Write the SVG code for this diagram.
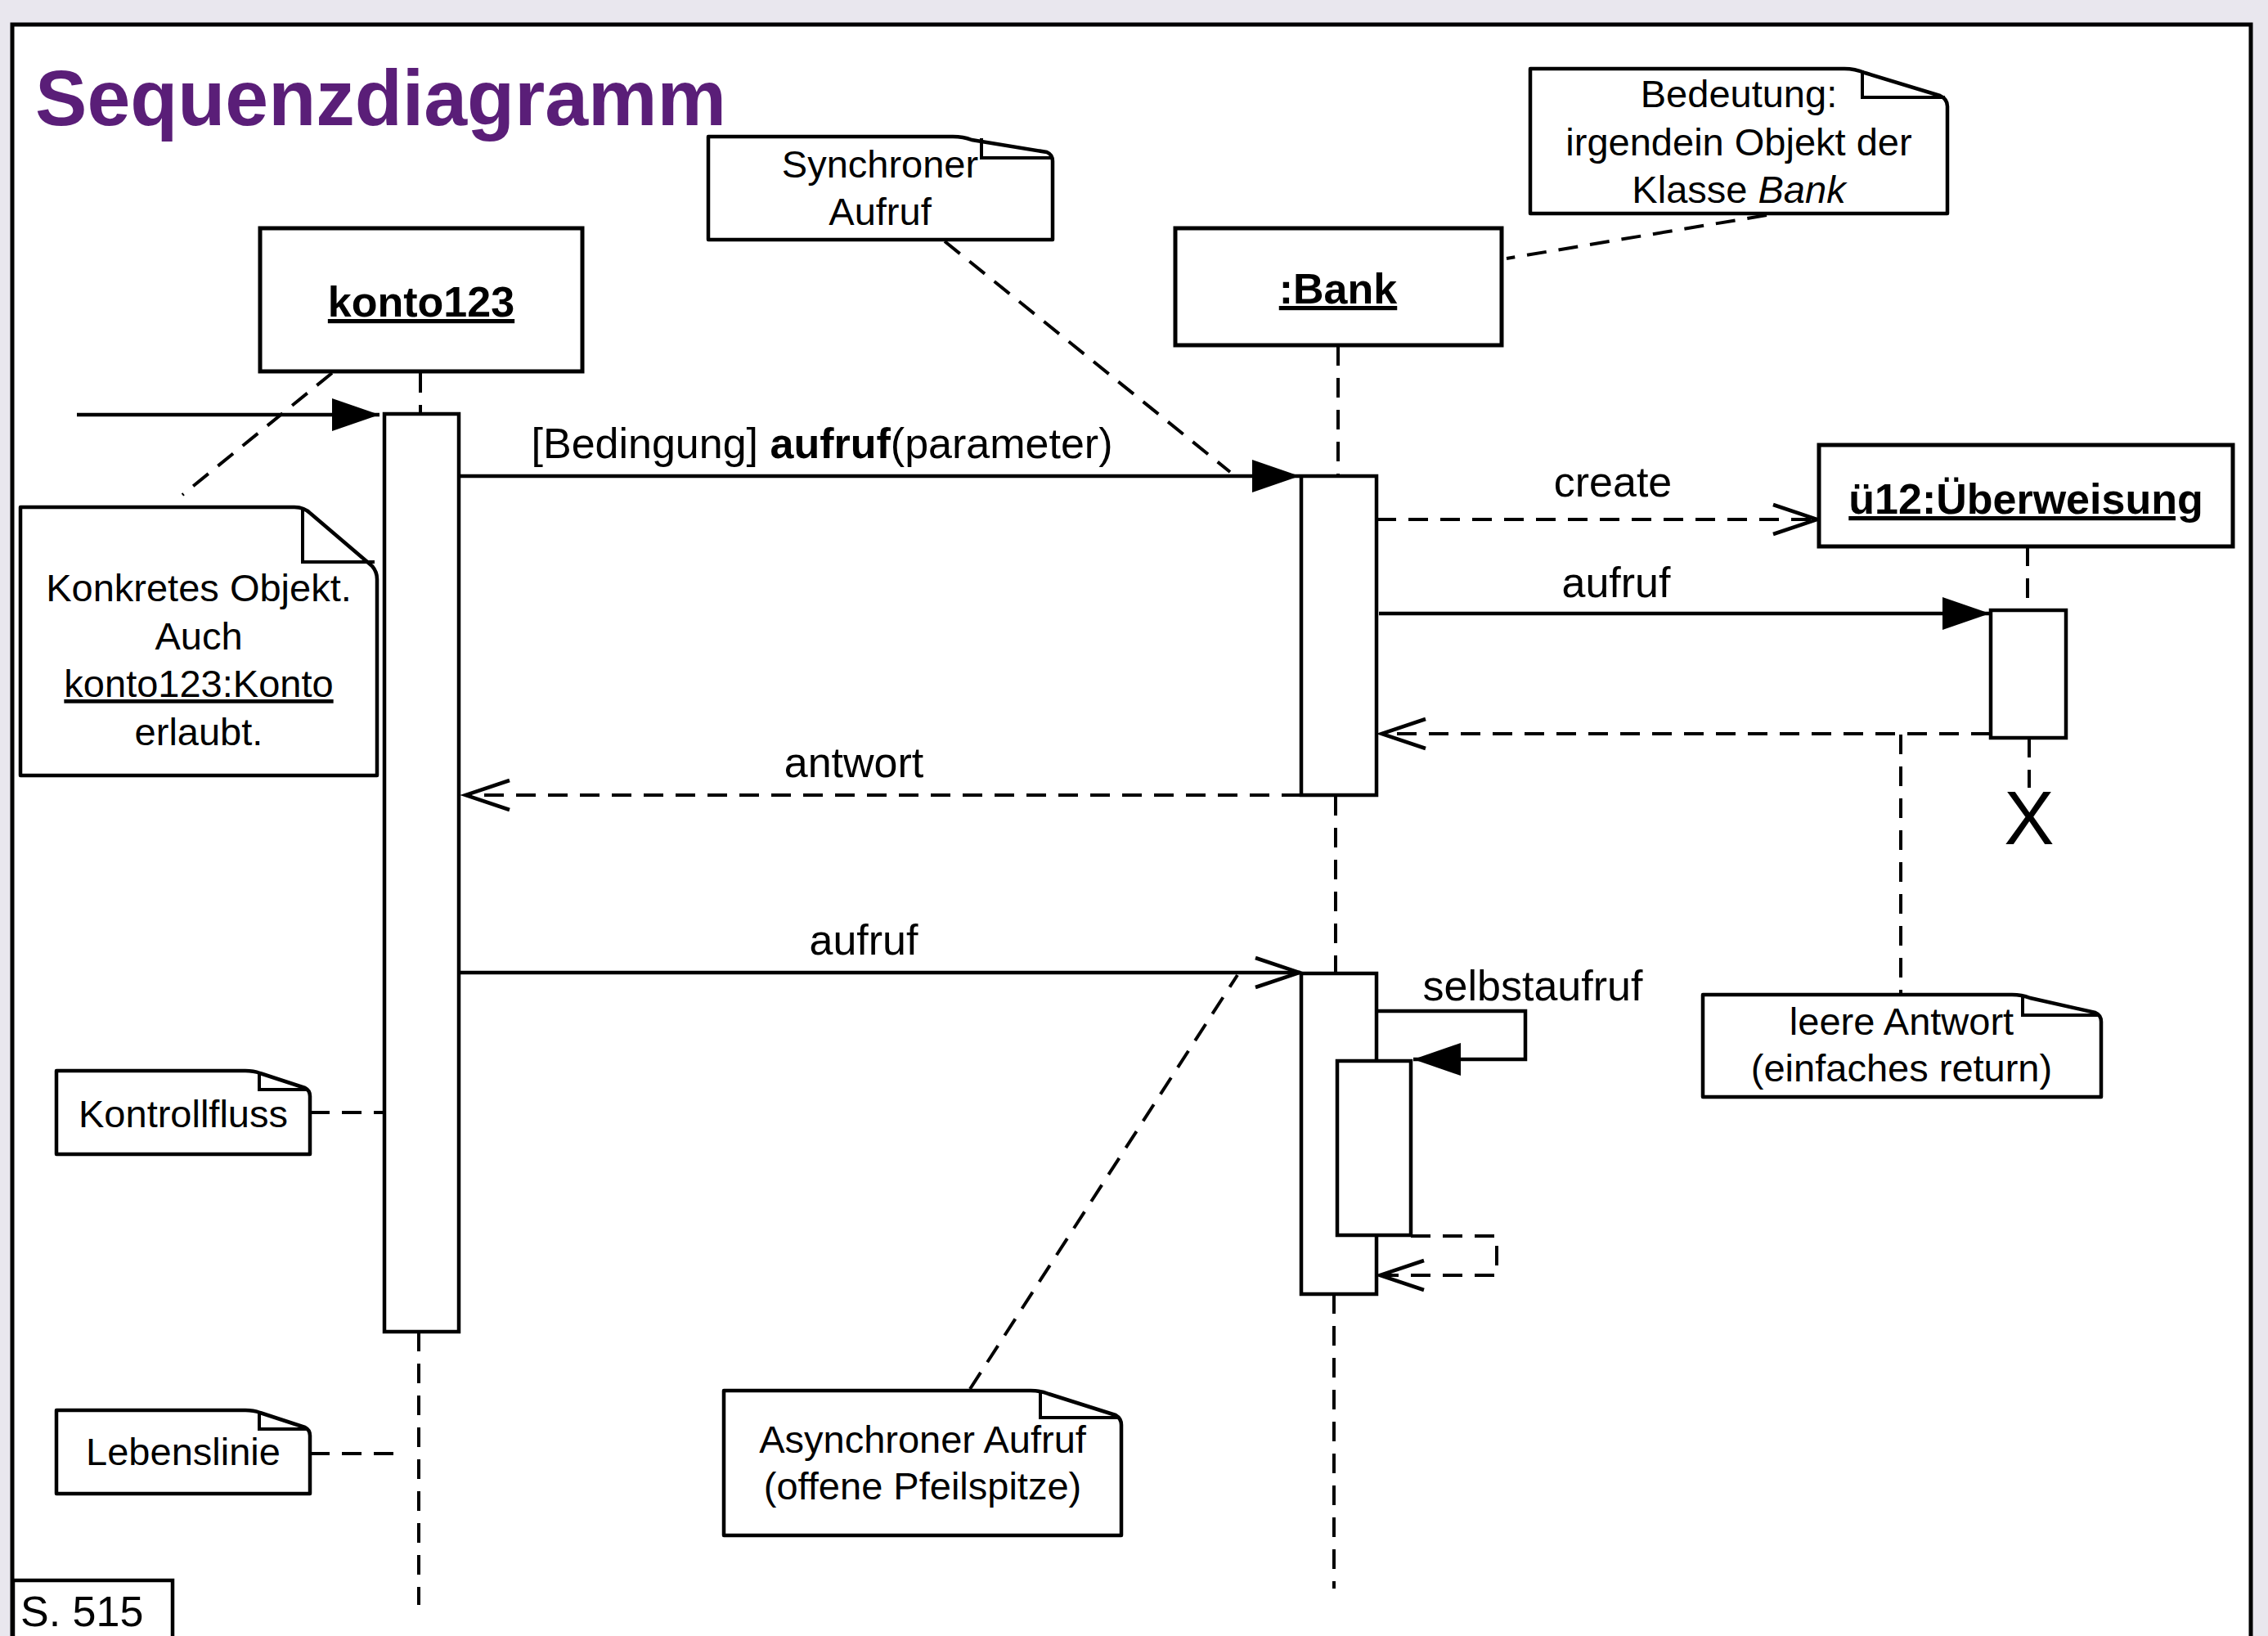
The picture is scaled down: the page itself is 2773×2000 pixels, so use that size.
<svg xmlns="http://www.w3.org/2000/svg" width="2773" height="2000" viewBox="0 0 2773 2000">
<style>
.box{fill:#fff;stroke:#000;stroke-width:5}
.act{fill:#fff;stroke:#000;stroke-width:4.5}
.note{fill:#fff;stroke:#000;stroke-width:4.5;stroke-linejoin:round}
.fold{fill:none;stroke:#000;stroke-width:4}
.dash{fill:none;stroke:#000;stroke-width:4;stroke-dasharray:24 15}
.solid{fill:none;stroke:#000;stroke-width:4.5}
.t{font-family:"Liberation Sans",Arial,sans-serif;fill:#000}
.nt{font-size:47px;text-anchor:middle}
.msg{font-size:52px;text-anchor:middle}
.obj{font-size:52px;font-weight:bold;text-anchor:middle;text-decoration:underline}
</style>
<defs>
<marker id="filled" markerUnits="userSpaceOnUse" markerWidth="62" markerHeight="46" refX="58" refY="22" orient="auto">
<path d="M0,2 L58,22 L0,42 Z" fill="#000"/>
</marker>
<marker id="open" markerUnits="userSpaceOnUse" markerWidth="62" markerHeight="46" refX="57" refY="22" orient="auto">
<path d="M2,4 L56,22 L2,40" fill="none" stroke="#000" stroke-width="4.5" stroke-dasharray="none"/>
</marker>
</defs>
<rect x="0" y="0" width="2773" height="2000" fill="#e9e7ee"/>
<rect x="15" y="30" width="2737" height="2010" fill="#fff" stroke="#000" stroke-width="5"/>
<text class="t" x="43" y="153" font-size="96" font-weight="bold" fill="#5a1e78" style="fill:#5a1e78" textLength="845" lengthAdjust="spacingAndGlyphs">Sequenzdiagramm</text>

<g id="connectors">
<!-- lifelines -->
<path class="dash" d="M514,456 V506"/>
<path class="dash" d="M512,1628 V1962"/>
<path class="dash" d="M1636,423 V582"/>
<path class="dash" d="M1633,973 V1190"/>
<path class="dash" d="M1631,1582 V1942"/>
<path class="dash" d="M2479,668 V746"/>
<path class="dash" d="M2481,902 V963"/>
<!-- note anchors -->
<path class="dash" d="M406,456 L223,605"/>
<path class="dash" d="M1155,295 L1504,577"/>
<path class="dash" d="M2160,263 L1842,316"/>
<path class="dash" d="M1186,1698 L1513,1192"/>
<path class="dash" d="M379,1360 H470"/>
<path class="dash" d="M379,1777 H495"/>
<path class="dash" d="M2324,898 V1216"/>
<!-- messages -->
<path class="solid" d="M94,507 H464" marker-end="url(#filled)"/>
<path class="solid" d="M561,582 H1589" marker-end="url(#filled)"/>
<path class="dash" d="M1683,635 H2223" marker-end="url(#open)"/>
<path class="solid" d="M1686,750 H2433" marker-end="url(#filled)"/>
<path class="dash" d="M2434,897 H1688" marker-end="url(#open)"/>
<path class="dash" d="M1591,972 H568" marker-end="url(#open)"/>
<path class="solid" d="M561,1189 H1590" marker-end="url(#open)"/>
<path class="solid" d="M1683,1236 H1865 V1295 H1728" marker-end="url(#filled)"/>
<path class="dash" d="M1725,1511 H1830 V1559 H1686" marker-end="url(#open)"/>
<text class="t msg" x="1005" y="560">[Bedingung] <tspan font-weight="bold">aufruf</tspan>(parameter)</text>
<text class="t msg" x="1972" y="607">create</text>
<text class="t msg" x="1976" y="730">aufruf</text>
<text class="t msg" x="1044" y="950">antwort</text>
<text class="t msg" x="1056" y="1167">aufruf</text>
<text class="t msg" x="1874" y="1223">selbstaufruf</text>
</g>

<g id="konto123">
<rect class="box" x="318" y="279" width="394" height="175"/>
<text class="t obj" x="515" y="387">konto123</text>
<rect class="act" x="470" y="506" width="91" height="1122"/>
</g>

<g id="bank">
<rect class="box" x="1437" y="279" width="399" height="143"/>
<text class="t obj" x="1636" y="371">:Bank</text>
<rect class="act" x="1591" y="582" width="92" height="390"/>
<rect class="act" x="1591" y="1190" width="92" height="392"/>
<rect class="act" x="1635" y="1297" width="90" height="213"/>
</g>

<g id="ueberweisung">
<rect class="box" x="2224" y="544" width="506" height="124"/>
<text class="t obj" x="2477" y="628">ü12:Überweisung</text>
<rect class="act" x="2434" y="746" width="92" height="156"/>
<text class="t" x="2481" y="1032" font-size="92" text-anchor="middle">X</text>
</g>

<g id="note-konkret">
<path class="note" d="M25,620 H360 Q372,620 380,628 L455,692 Q461,699 461,708 V948 H25 Z"/>
<path class="fold" d="M370,623 V687 H458"/>
<text class="t nt" x="243" y="735">Konkretes Objekt.</text>
<text class="t nt" x="243" y="794">Auch</text>
<text class="t nt" x="243" y="852" text-decoration="underline">konto123:Konto</text>
<text class="t nt" x="243" y="911">erlaubt.</text>
</g>

<g id="note-synchron">
<path class="note" d="M866,167 H1165 Q1178,167 1188,171 L1280,186 Q1287,189 1287,197 V293 H866 Z"/>
<path class="fold" d="M1200,169 V193 H1285"/>
<text class="t nt" x="1076" y="217">Synchroner</text>
<text class="t nt" x="1076" y="275">Aufruf</text>
</g>

<g id="note-bedeutung">
<path class="note" d="M1871,84 H2255 Q2268,84 2280,89 L2372,117 Q2381,121 2381,130 V261 H1871 Z"/>
<path class="fold" d="M2277,86 V119 H2378"/>
<text class="t nt" x="2126" y="131">Bedeutung:</text>
<text class="t nt" x="2126" y="190">irgendein Objekt der</text>
<text class="t nt" x="2126" y="248">Klasse <tspan font-style="italic">Bank</tspan></text>
</g>

<g id="note-async">
<path class="note" d="M885,1700 H1260 Q1272,1700 1282,1704 L1364,1730 Q1371,1734 1371,1742 V1877 H885 Z"/>
<path class="fold" d="M1272,1702 V1733 H1369"/>
<text class="t nt" x="1128" y="1776">Asynchroner Aufruf</text>
<text class="t nt" x="1128" y="1833">(offene Pfeilspitze)</text>
</g>

<g id="note-kontrollfluss">
<path class="note" d="M69,1309 H300 Q310,1309 318,1312 L373,1330 Q379,1333 379,1340 V1411 H69 Z"/>
<path class="fold" d="M317,1311 V1332 H377"/>
<text class="t nt" x="224" y="1378">Kontrollfluss</text>
</g>

<g id="note-lebenslinie">
<path class="note" d="M69,1724 H300 Q310,1724 318,1727 L373,1745 Q379,1748 379,1755 V1826 H69 Z"/>
<path class="fold" d="M317,1726 V1747 H377"/>
<text class="t nt" x="224" y="1791">Lebenslinie</text>
</g>

<g id="note-leere">
<path class="note" d="M2082,1216 H2460 Q2472,1216 2482,1220 L2562,1238 Q2569,1241 2569,1249 V1341 H2082 Z"/>
<path class="fold" d="M2473,1218 V1241 H2567"/>
<text class="t nt" x="2325" y="1265">leere Antwort</text>
<text class="t nt" x="2325" y="1322">(einfaches return)</text>
</g>

<g id="page">
<rect x="16" y="1932" width="195" height="110" fill="#fff" stroke="#000" stroke-width="4.5"/>
<text class="t" x="25" y="1988" font-size="52">S. 515</text>
</g>
</svg>
